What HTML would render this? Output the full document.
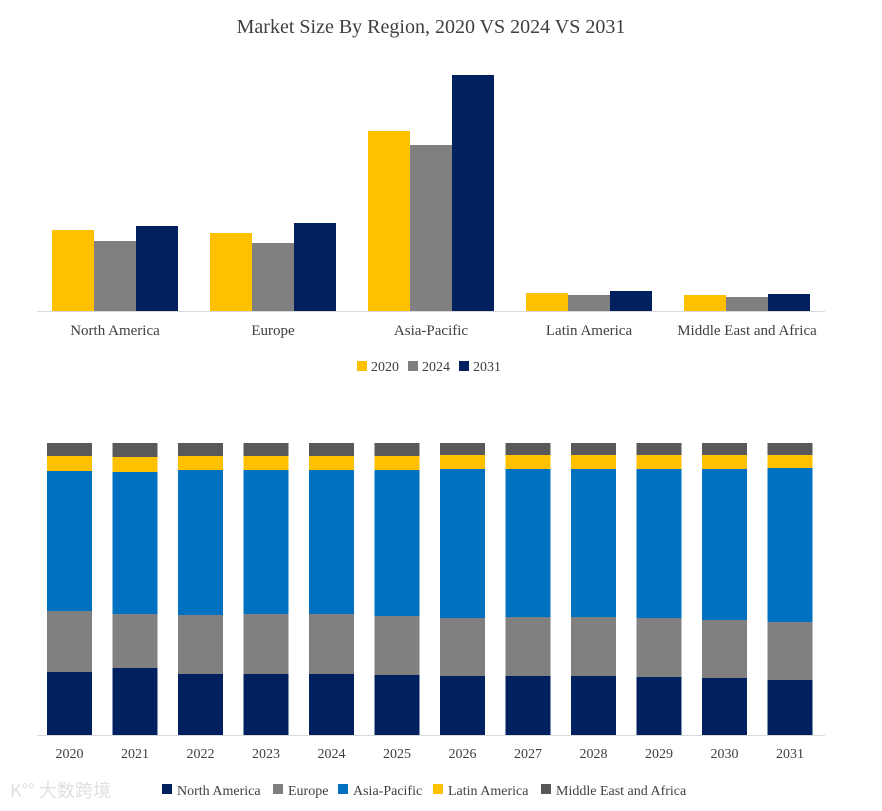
<!DOCTYPE html>
<html><head><meta charset="utf-8"><style>
body{margin:0;background:#fff;width:882px;height:806px;overflow:hidden;font-family:"Liberation Serif",serif;}
svg text{font-family:"Liberation Serif",serif;fill:#404040;}
</style></head><body>
<svg id="c" width="882" height="806" xmlns="http://www.w3.org/2000/svg">
<text x="431" y="33" text-anchor="middle" font-size="20">Market Size By Region, 2020 VS 2024 VS 2031</text>
<g id="topChart"></g><g id="botChart"></g>
<text x="10" y="797" font-size="18" style="fill:#e0e0e0;font-family:'Noto Sans CJK SC',sans-serif">K°° 大数跨境</text>
</svg>
<script>
const regions=["North America","Europe","Asia-Pacific","Latin America","Middle East and Africa"];
const years3=["2020","2024","2031"];
const v2020=[81,78,180,18,16];
const v2024=[70,68,166,16,14];
const v2031=[85,88,236,20,17];
const colors3=["#FFC000","#808080","#002060"];
const years=["2020","2021","2022","2023","2024","2025","2026","2027","2028","2029","2030","2031"];
const sNA=[63,67,61,61,61,60,59,59,59,58,57,55];
const sEU=[61,54,59,60,60,59,58,59,59,59,58,58];
const sAP=[140,142,145,144,144,146,149,148,148,149,151,154];
const sLA=[15,15,14,14,14,14,14,14,14,14,14,13];
const sME=[13,14,13,13,13,13,12,12,12,12,12,12];
const colors5=["#002060","#808080","#0070C0","#FFC000","#595959"];
const NS="http://www.w3.org/2000/svg";
function el(t,a,p){const e=document.createElementNS(NS,t);for(const k in a)e.setAttribute(k,a[k]);p.appendChild(e);return e;}
const gTop=document.getElementById('topChart'),gBot=document.getElementById('botChart');
const yT=v=>311-v, gx=i=>115+i*158;
const series3=[v2020,v2024,v2031];
regions.forEach((r,i)=>{
 series3.forEach((s,j)=>{
  const r2=el('rect',{x:gx(i)-63+j*42,y:yT(s[i]),width:42,height:s[i],fill:colors3[j]},gTop);
  
  
 });
 const t=el('text',{x:gx(i),y:335,'text-anchor':'middle','font-size':15},gTop);t.textContent=r;
 
 
});
const ax=el('line',{x1:37,x2:825,y1:311.5,y2:311.5,stroke:'#d9d9d9'},gTop);


let lx=357;
years3.forEach((y,j)=>{
 const g=el('g',{},gTop);
 
 
 el('rect',{x:lx,y:361,width:10,height:10,fill:colors3[j]},g);
 const t=el('text',{x:lx+14,y:371,'font-size':14},g);t.textContent=y;lx+=51;
});
const bx=i=>47+i*65.5, base=735;
const stack=[sNA,sEU,sAP,sLA,sME];
const names=["north-america","europe","asia-pacific","latin-america","middle-east-africa"];
years.forEach((y,i)=>{
 let cur=base;
 stack.forEach((s,k)=>{
  const r=el('rect',{x:bx(i),y:cur-s[i],width:45,height:s[i],fill:colors5[k]},gBot);
  
  
  cur-=s[i];
 });
 const t=el('text',{x:bx(i)+22.5,y:758,'text-anchor':'middle','font-size':14},gBot);t.textContent=y;
 
 
});
const ax2=el('line',{x1:37,x2:825,y1:735.5,y2:735.5,stroke:'#d9d9d9'},gBot);


const lpos=[162,273,338,433,541];
regions.forEach((r,k)=>{
 const g=el('g',{},gBot);
 
 
 el('rect',{x:lpos[k],y:784,width:10,height:10,fill:colors5[k]},g);
 const t=el('text',{x:lpos[k]+15,y:795,'font-size':14},g);t.textContent=r;
});
</script>
</body></html>
